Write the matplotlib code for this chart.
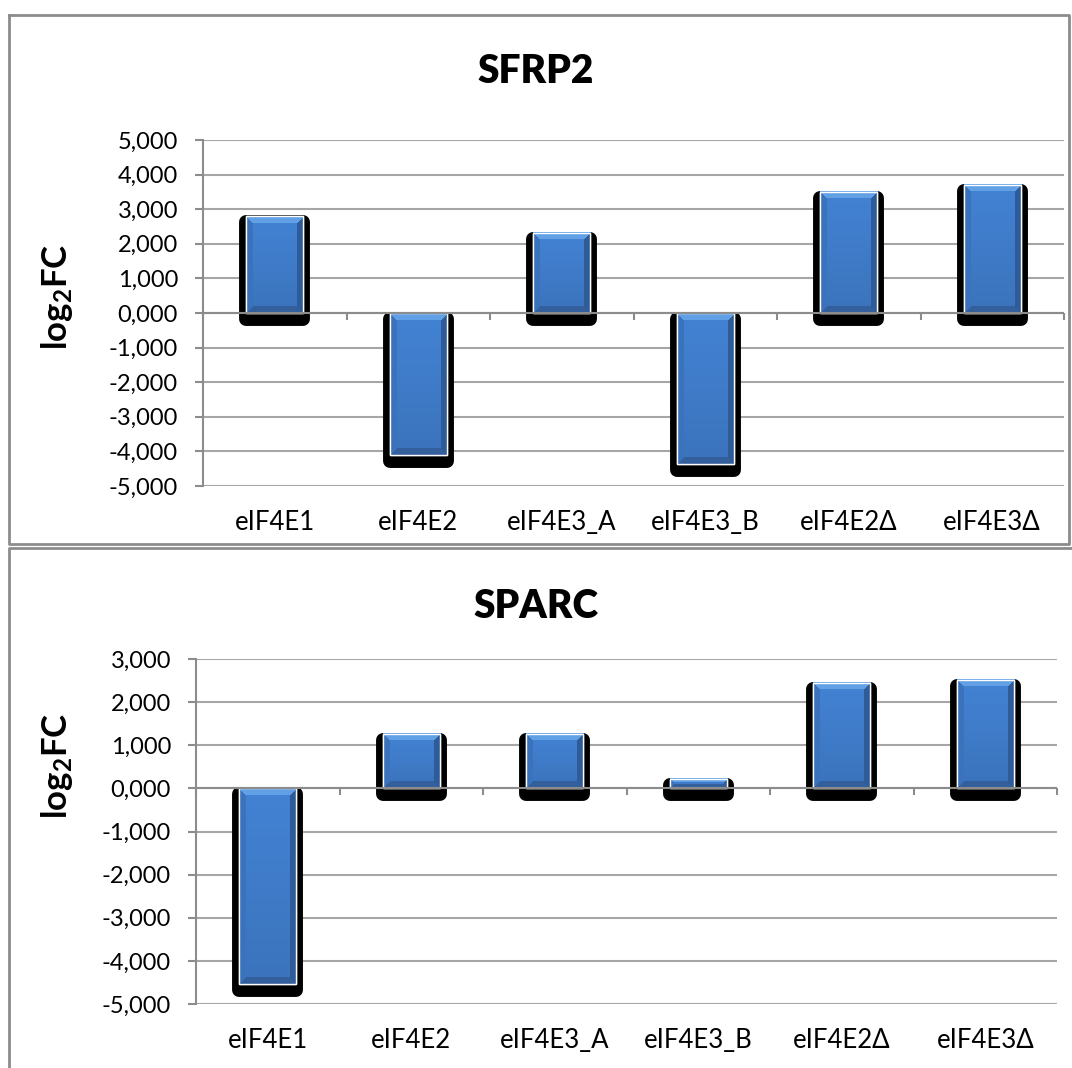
import numpy as np
import matplotlib
matplotlib.use('Agg')
import matplotlib.pyplot as plt
from matplotlib.colors import to_rgb
from matplotlib.transforms import ScaledTranslation
from matplotlib.lines import Line2D

# data
categories = ['eIF4E1', 'eIF4E2', 'eIF4E3_A', 'eIF4E3_B', 'eIF4E2Δ', 'eIF4E3Δ']
sfrp2 = [2.80, -4.10, 2.32, -4.35, 3.50, 3.70]
sparc = [-4.54, 1.27, 1.27, 0.22, 2.44, 2.51]
sfrp2_ticks = [-5, -4, -3, -2, -1, 0, 1, 2, 3, 4, 5]
sparc_ticks = [-5, -4, -3, -2, -1, 0, 1, 2, 3]

plt.rcParams['font.family'] = ['Lato', 'DejaVu Sans']
plt.rcParams['mathtext.fontset'] = 'custom'
plt.rcParams['mathtext.rm'] = 'Lato'
plt.rcParams['mathtext.bf'] = 'Lato:bold'

GRAY = '#8c8c8c'
GRID = '#a6a6a6'
BLUE = '#3f7bc8'

fig = plt.figure(figsize=(10.72, 10.68), dpi=100)
W, H = 1072, 1068


def bevel_image(w, h, b=7):
    # little bevelled face like the old excel bars
    w = max(int(round(w)), 2)
    h = max(int(round(h)), 2)
    yy, xx = np.mgrid[0:h, 0:w]
    t = yy / max(h - 1, 1)
    img = np.ones((h, w, 3)) * np.array(to_rgb(BLUE))
    img = img * (1.06 - 0.12 * t)[..., None]
    dl, dr, dt, db = xx, w - 1 - xx, yy, h - 1 - yy
    b = min(b, h // 2, w // 2)
    top = (dt < b) & (dt <= dl) & (dt <= dr)
    left = (dl < b) & (dl < dt) & (dl <= db)
    right = (dr < b) & (dr < dt) & (dr <= db)
    bottom = (db < b) & (db < dl) & (db < dr)
    img[top] = to_rgb('#62a0e6')
    img[left] = to_rgb('#3a72bb')
    img[right] = to_rgb('#2d5c99')
    img[bottom] = to_rgb('#335f9c')
    return np.clip(img, 0, 1)


def panel(rect, values, ticks, title, title_y, ylab_y):
    ax = fig.add_axes(rect)
    x = np.arange(len(categories))
    ax.set_xlim(-0.5, len(categories) - 0.5)
    ax.set_ylim(ticks[0], ticks[-1])
    ax.set_yticks(ticks)
    ax.set_yticklabels([('%.3f' % v).replace('.', ',') for v in ticks], fontsize=17)
    ax.set_xticks(x)
    ax.set_xticklabels(categories, fontsize=18.5)
    ax.tick_params(axis='x', length=0, pad=17)
    ax.tick_params(axis='y', length=6, width=1.5, color=GRAY, pad=12)
    for s in ['top', 'right', 'bottom']:
        ax.spines[s].set_visible(False)
    ax.spines['left'].set_color(GRAY)
    ax.spines['left'].set_linewidth(1.5)
    ax.yaxis.grid(True, color=GRID, lw=1.5)
    ax.set_axisbelow(True)

    ppu = rect[3] * H / (ticks[-1] - ticks[0])  # pixels per unit
    ppx = rect[2] * W / len(categories)
    width = 0.4

    # shadow, offset down
    shadow = ax.bar(x, values, width, color='black', edgecolor='black',
                    linewidth=10, joinstyle='round', zorder=2)
    off = ScaledTranslation(0, -6 / 100, fig.dpi_scale_trans)
    for p in shadow:
        p.set_transform(ax.transData + off)

    bars = ax.bar(x, values, width, color=BLUE, edgecolor='white', linewidth=1, zorder=3)
    for p, v in zip(bars, values):
        x0 = p.get_x()
        img = bevel_image(width * ppx, abs(v) * ppu)
        ax.imshow(img, extent=(x0, x0 + width, min(0, v), max(0, v)),
                  origin='upper', aspect='auto', zorder=3.5, clip_path=p, interpolation='nearest')
    # white highlight edge on top
    ax.bar(x, values, width, facecolor='none', edgecolor='white', linewidth=1, zorder=3.6)

    # category axis at zero with its little ticks
    ax.axhline(0, color=GRAY, lw=1.5, zorder=5)
    bounds = np.arange(len(categories) + 1) - 0.5
    ax.vlines(bounds, 0, -7 / ppu, color=GRAY, lw=1.5, zorder=5, clip_on=False)

    fig.text(0.5, 1 - title_y / H, title, ha='center', va='center',
             fontsize=28, fontweight='heavy')
    fig.text(57 / W, 1 - ylab_y / H, r'$\mathbf{log_2FC}$', rotation=90,
             ha='center', va='center', fontsize=25)
    return ax


panel([203 / W, 1 - 486 / H, 861 / W, 346 / H], sfrp2, sfrp2_ticks, 'SFRP2', 72, 297)
panel([196 / W, 1 - 1004 / H, 861 / W, 345 / H], sparc, sparc_ticks, 'SPARC', 607, 766)

# chart area borders
def fline(xs, ys):
    fig.add_artist(Line2D([v / W for v in xs], [1 - v / H for v in ys], color=GRAY, lw=2))

fline([9, 1069, 1069, 9, 9], [15, 15, 544, 544, 15])
fline([1080, 9, 9], [548, 548, 1080])

fig.savefig('out.png', dpi=100, facecolor='white')
